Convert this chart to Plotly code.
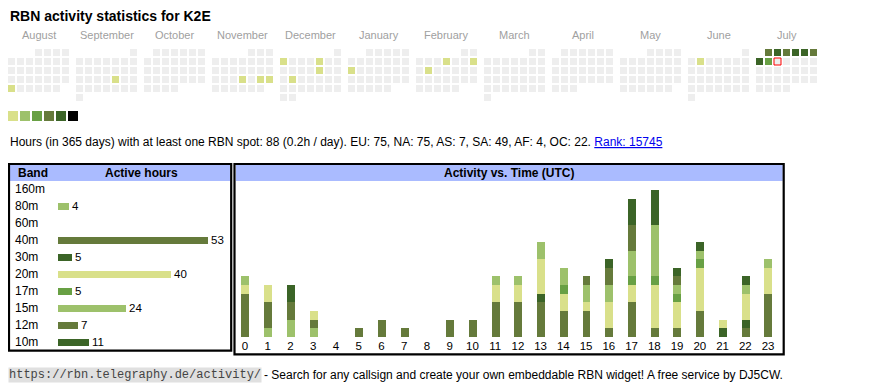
import calendar
import datetime as dt
import plotly.graph_objects as go

W, H = 870, 390
OFF = 8  # default page body margin; all positions below are in page pixels

# ---------------- data ----------------
TITLE = "RBN activity statistics for K2E"
MONTHS = ["August", "September", "October", "November", "December", "January",
          "February", "March", "April", "May", "June", "July"]
MONTH_YEARS = [2024, 2024, 2024, 2024, 2024, 2025, 2025, 2025, 2025, 2025, 2025, 2025]
MONTH_NUMS = [8, 9, 10, 11, 12, 1, 2, 3, 4, 5, 6, 7]

ACTIVE_DAYS = ["2024-08-26", "2024-09-20", "2024-11-21", "2024-11-23", "2024-11-24",
               "2024-12-02", "2024-12-06", "2024-12-13", "2024-12-17", "2025-01-13",
               "2025-02-06", "2025-02-09", "2025-02-11", "2025-06-03",
               "2025-07-01", "2025-07-02", "2025-07-03", "2025-07-04", "2025-07-05",
               "2025-07-06", "2025-07-07", "2025-07-08"]
ACTIVE_LEVELS = [1, 1, 1, 1, 1, 1, 1, 1, 1, 1, 1, 1, 1, 1,
                 4, 5, 4, 5, 5, 4, 5, 3]
TODAY = "2025-07-09"

LEVEL_COLORS = ["#d9e08a", "#9dc16b", "#68a044", "#657a3b", "#3b6427", "#000000"]
EMPTY_COLOR = "#eeeeee"

BANDS = ["160m", "80m", "60m", "40m", "30m", "20m", "17m", "15m", "12m", "10m"]
BAND_HOURS = [0, 4, 0, 53, 5, 40, 5, 24, 7, 11]
BAND_COLORS = ["#d9e08a", "#9dc16b", "#68a044", "#657a3b", "#3b6427",
               "#d9e08a", "#68a044", "#9dc16b", "#657a3b", "#3b6427"]

HOURS = list(range(24))
STACK_BANDS = ["80m", "40m", "30m", "20m", "17m", "15m", "12m", "10m"]
H_80 = [0, 1, 2, 1, 0, 0, 0, 0, 0, 0, 0, 0, 0, 0, 0, 0, 0, 0, 0, 0, 0, 0, 0, 0]
H_40 = [5, 3, 2, 1, 0, 1, 2, 1, 0, 2, 2, 4, 4, 4, 3, 3, 1, 4, 1, 1, 3, 0, 1, 5]
H_30 = [0, 0, 2, 0, 0, 0, 0, 0, 0, 0, 0, 0, 0, 1, 0, 0, 0, 0, 0, 0, 0, 1, 1, 0]
H_20 = [1, 2, 0, 1, 0, 0, 0, 0, 0, 0, 0, 2, 2, 4, 2, 1, 3, 2, 5, 3, 5, 1, 3, 3]
H_17 = [0, 0, 0, 0, 0, 0, 0, 0, 0, 0, 0, 0, 0, 0, 1, 0, 0, 1, 1, 1, 1, 0, 0, 0]
H_15 = [1, 0, 0, 0, 0, 0, 0, 0, 0, 0, 0, 1, 1, 2, 2, 2, 2, 3, 6, 1, 1, 0, 1, 1]
H_12 = [0, 0, 0, 0, 0, 0, 0, 0, 0, 0, 0, 0, 0, 0, 0, 1, 2, 3, 0, 1, 0, 0, 0, 0]
H_10 = [0, 0, 0, 0, 0, 0, 0, 0, 0, 0, 0, 0, 0, 0, 0, 0, 1, 3, 4, 1, 1, 0, 1, 0]
HOURLY = [H_80, H_40, H_30, H_20, H_17, H_15, H_12, H_10]

INFO = ("Hours (in 365 days) with at least one RBN spot: 88 (0.2h / day). "
        "EU: 75, NA: 75, AS: 7, SA: 49, AF: 4, OC: 22.")
RANK = "Rank: 15745"
FOOTER_URL = "https://rbn.telegraphy.de/activity/"
FOOTER_TEXT = "- Search for any callsign and create your own embeddable RBN widget! A free service by DJ5CW."

FONT = "Arial, Liberation Sans, sans-serif"
MONO = "Courier New, Liberation Mono, monospace"
HEADER_BG = "#aabbff"

# ---------------- layout geometry (page pixels) ----------------
CAL_X0, CAL_Y0 = 8, 49
CELL, PITCH, MONTH_PITCH = 7, 9, 68


def pxx(v):
    return (v - OFF) / W


def py(v):
    return 1 - (v - OFF) / H


fig = go.Figure()

# calendar cells
level_of = dict(zip(ACTIVE_DAYS, ACTIVE_LEVELS))
cx, cy, cc = [], [], []
today_xy = None
for m, (yr, mo) in enumerate(zip(MONTH_YEARS, MONTH_NUMS)):
    first_wd, ndays = calendar.monthrange(yr, mo)
    for d in range(1, ndays + 1):
        k = first_wd + d - 1
        col, row = k % 7, k // 7
        cx.append(CAL_X0 + m * MONTH_PITCH + col * PITCH + CELL / 2)
        cy.append(CAL_Y0 + row * PITCH + CELL / 2)
        key = dt.date(yr, mo, d).isoformat()
        lv = level_of.get(key)
        cc.append(LEVEL_COLORS[lv - 1] if lv else EMPTY_COLOR)
        if key == TODAY:
            today_xy = (cx[-1], cy[-1])

fig.add_trace(go.Scatter(x=cx, y=cy, mode="markers", xaxis="x", yaxis="y",
                         marker=dict(symbol="square", size=CELL, color=cc, line=dict(width=0)),
                         hoverinfo="skip"))
fig.add_trace(go.Scatter(x=[today_xy[0]], y=[today_xy[1]], mode="markers", xaxis="x", yaxis="y",
                         marker=dict(symbol="square-open", size=CELL, color="#ff0000",
                                     line=dict(width=1, color="#ff0000")),
                         hoverinfo="skip"))
# colour scale swatches
fig.add_trace(go.Scatter(x=[8 + 5 + i * 12 for i in range(len(LEVEL_COLORS))],
                         y=[116] * len(LEVEL_COLORS), mode="markers", xaxis="x", yaxis="y",
                         marker=dict(symbol="square", size=10, color=LEVEL_COLORS, line=dict(width=0)),
                         hoverinfo="skip"))

# band table bars
BAR_X0, BAR_SCALE = 58, 2.83
X2_D0, X2_D1 = 12, 228
fig.add_trace(go.Bar(orientation="h", x=BAND_HOURS, y=BANDS, xaxis="x2", yaxis="y2",
                     marker=dict(color=BAND_COLORS, line=dict(width=0)), width=0.4,
                     text=[str(v) if v else "" for v in BAND_HOURS], textposition="outside",
                     constraintext="none", cliponaxis=False,
                     textfont=dict(family=FONT, size=11.5, color="#000"),
                     hoverinfo="skip"))

# hourly activity stacked bars
UNIT = 8.65
BASE_Y, TOP_Y = 337, 181
for band, vals in zip(STACK_BANDS, HOURLY):
    fig.add_trace(go.Bar(x=HOURS, y=vals, xaxis="x3", yaxis="y3", width=0.35,
                         marker=dict(color=BAND_COLORS[BANDS.index(band)], line=dict(width=0)),
                         hoverinfo="skip", name=band))

hidden = dict(visible=False, showgrid=False, zeroline=False)

annotations = [
    dict(x=8, y=16, text="<b>" + TITLE + "</b>", font=dict(family=FONT, size=14, color="#000"),
         xanchor="left", yanchor="middle"),
    dict(x=8, y=142, text=INFO + ' <a href="https://rbn.telegraphy.de/activity/"><span style="color:#0000ee;text-decoration:underline">' + RANK + "</span></a>",
         font=dict(family=FONT, size=12, color="#000"), xanchor="left", yanchor="middle"),
    dict(x=16, y=173, text="<b>Band</b>", font=dict(family=FONT, size=12, color="#000"),
         xanchor="left", yanchor="middle"),
    dict(x=141.5, y=173, text="<b>Active hours</b>", font=dict(family=FONT, size=12, color="#000"),
         xanchor="center", yanchor="middle"),
    dict(x=508.5, y=173, text="<b>Activity vs. Time (UTC)</b>", font=dict(family=FONT, size=12, color="#000"),
         xanchor="center", yanchor="middle"),
    dict(x=8, y=374.5, text=FOOTER_URL, font=dict(family=MONO, size=12, color="#444"),
         bgcolor="#e0e0e0", borderpad=0, xanchor="left", yanchor="middle"),
    dict(x=262, y=374.5, text=FOOTER_TEXT, font=dict(family=FONT, size=12, color="#000"),
         xanchor="left", yanchor="middle"),
]
for m, name in enumerate(MONTHS):
    annotations.append(dict(x=CAL_X0 + m * MONTH_PITCH + (7 * PITCH - 2) / 2, y=35, text=name,
                            font=dict(family=FONT, size=11, color="#a0a0a0"),
                            xanchor="center", yanchor="middle"))
for a in annotations:
    a.update(xref="x", yref="y", showarrow=False)

shapes = [
    dict(type="rect", x0=10, x1=230, y0=165, y1=181, fillcolor=HEADER_BG, line=dict(width=0), layer="below"),
    dict(type="rect", x0=236, x1=782.7, y0=165, y1=181, fillcolor=HEADER_BG, line=dict(width=0), layer="below"),
    dict(type="rect", x0=9, x1=231.2, y0=164, y1=350.7, line=dict(color="#000", width=2.2)),
    dict(type="rect", x0=234.5, x1=783.7, y0=164, y1=354.4, line=dict(color="#000", width=2.2)),
]
for s in shapes:
    s.update(xref="x", yref="y")

fig.update_layout(
    width=W, height=H, autosize=False,
    margin=dict(l=0, r=0, t=0, b=0, pad=0),
    paper_bgcolor="#ffffff", plot_bgcolor="rgba(0,0,0,0)",
    showlegend=False, barmode="stack", bargap=0,
    font=dict(family=FONT, color="#000"),
    xaxis=dict(domain=[0, 1], range=[OFF, W + OFF], **hidden),
    yaxis=dict(domain=[0, 1], range=[H + OFF, OFF], **hidden),
    xaxis2=dict(domain=[pxx(X2_D0), pxx(X2_D1)], anchor="y2",
                range=[-(BAR_X0 - X2_D0) / BAR_SCALE, (X2_D1 - BAR_X0) / BAR_SCALE],
                showticklabels=False, showgrid=False, zeroline=False, showline=False, ticks=""),
    yaxis2=dict(domain=[py(350.8), py(180.5)], anchor="x2", autorange="reversed",
                categoryorder="array", categoryarray=BANDS, ticklabelposition="inside",
                tickfont=dict(family=FONT, size=12, color="#000"),
                showgrid=False, zeroline=False, showline=False, ticks=""),
    xaxis3=dict(domain=[pxx(233.6), pxx(779.4)], anchor="y3", range=[-0.5, 23.5],
                tickmode="array", tickvals=HOURS, ticktext=[str(h) for h in HOURS],
                tickfont=dict(family=FONT, size=11.5, color="#000"),
                showgrid=False, zeroline=False, showline=False, ticks=""),
    yaxis3=dict(domain=[py(BASE_Y), py(TOP_Y)], anchor="x3",
                range=[0, (BASE_Y - TOP_Y) / UNIT], **hidden),
    annotations=annotations, shapes=shapes,
)

fig.write_html("out.html")
